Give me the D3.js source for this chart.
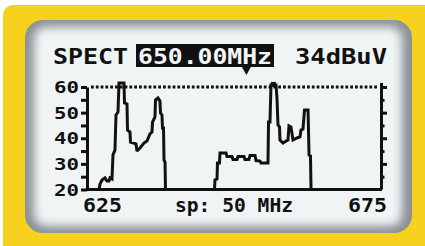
<!DOCTYPE html>
<html>
<head>
<meta charset="utf-8">
<script src="https://cdn.jsdelivr.net/npm/d3@7"></script>
<style>
  html, body { margin: 0; padding: 0; background: #ffffff; }
  svg { display: block; }
  text { font-family: "DejaVu Sans Mono", monospace; font-weight: bold; fill: #111; }
</style>
</head>
<body>
<svg id="chart" width="425" height="246"></svg>
<script>
// ---- data ----
const headerMode = "SPECT";
const headerFreq = "650.00MHz";
const headerLevel = "34dBuV";
const spanLabel = "sp: 50 MHz";
const xDomain = [625, 675];          // MHz
const yDomain = [20, 60];            // dBuV
const xTickLabels = [625, 675];
const yTickValues = [20, 25, 30, 35, 40, 45, 50, 55, 60];
const yTickLabels = [20, 30, 40, 50, 60];
const refLevel = [60];
const markerFreq = [652.1];
const peakMarker = [[656.7, 61.0]];

// channel 1 trace [MHz, dBuV]
const channel1 = [
  [625, 20], [627.04, 20], [627.21, 22.1], [627.55, 23.7], [628.06, 24.5], [628.40, 23.3],
  [628.74, 23.3], [628.91, 24.5], [629.25, 24.1], [629.42, 33.5], [629.76, 35.4],
  [629.93, 49.1], [630.27, 50.2], [630.44, 61.6], [631.29, 61.6], [631.38, 53.8],
  [631.80, 53.4], [631.89, 43.2], [632.31, 42.4], [632.40, 38.5], [633.33, 37.8],
  [633.50, 35.0], [634.01, 36.2], [634.69, 38.1], [635.20, 38.9], [635.71, 41.7],
  [636.05, 42.4], [636.14, 46.3], [636.56, 48.3], [636.65, 54.9], [637.07, 55.7],
  [637.41, 54.5], [637.50, 49.9], [637.75, 49.1], [637.84, 44.0], [638.01, 44.0],
  [638.10, 31.5], [638.27, 30.7], [638.35, 20]
];
// channel 2 trace [MHz, dBuV]
const channel2 = [
  [646.68, 20], [646.77, 23.7], [647.11, 24.1], [647.19, 30.3], [647.53, 30.3],
  [647.62, 34.2], [648.64, 34.2], [648.81, 32.9], [649.66, 32.9], [649.83, 31.7],
  [650.51, 31.7], [650.68, 32.9], [651.70, 32.9], [651.87, 31.7], [652.55, 31.7],
  [652.72, 33.3], [653.57, 33.3], [653.74, 31.3], [654.42, 31.1], [654.59, 30.3],
  [655.78, 30.3], [655.87, 46.3], [656.12, 46.3], [656.29, 60.8], [657.14, 60.8],
  [657.31, 55.7], [657.48, 45.2], [657.74, 44.4], [657.82, 39.3], [658.33, 38.1],
  [658.84, 38.9], [659.18, 39.3], [659.35, 44.8], [659.69, 44.4], [660.03, 39.3],
  [660.71, 40.1], [661.22, 40.5], [661.39, 43.2], [661.73, 43.6], [661.99, 51.0],
  [662.59, 51.0], [662.76, 33.5], [663.01, 33.1], [663.10, 20], [675, 20]
];

// ---- drawing ----
const svg = d3.select("#chart");
const ink = "#111";
const lw = 3;

const defs = svg.append("defs");
const blur = defs.append("filter").attr("id", "soft").attr("x", "-10%").attr("y", "-10%")
  .attr("width", "120%").attr("height", "120%");
blur.append("feGaussianBlur").attr("stdDeviation", 5);
defs.append("clipPath").attr("id", "screenClip")
  .append("rect").attr("x", 25).attr("y", 20).attr("width", 387).attr("height", 213).attr("rx", 18);

// yellow frame
svg.append("rect").attr("x", 3).attr("y", 5).attr("width", 440).attr("height", 260)
  .attr("rx", 10).attr("fill", "#f6d21e");
// screen bezel
svg.append("rect").attr("x", 25).attr("y", 20).attr("width", 387).attr("height", 213)
  .attr("rx", 18).attr("fill", "#8a9094");
svg.append("g").attr("clip-path", "url(#screenClip)")
  .append("rect").attr("x", 34).attr("y", 27).attr("width", 368).attr("height", 199)
  .attr("rx", 12).attr("fill", "#f0f4f5").attr("filter", "url(#soft)");

// scales
const x = d3.scaleLinear().domain(xDomain).range([87, 381]);
const y = d3.scaleLinear().domain(yDomain).range([189.5, 87]);

// left axis
const gL = svg.append("g").attr("transform", `translate(${x(xDomain[0])},0)`)
  .call(d3.axisLeft(y).tickValues(yTickValues).tickSize(6).tickSizeOuter(0).tickFormat(""));
gL.select(".domain").attr("stroke", ink).attr("stroke-width", lw);
gL.selectAll(".tick line").attr("stroke", ink).attr("stroke-width", lw);

// right axis (major / minor)
const gR1 = svg.append("g").attr("transform", `translate(${x(xDomain[1])},0)`)
  .call(d3.axisRight(y).tickValues(yTickValues.filter(v => v % 10 === 0 && v > 20)).tickSize(6).tickSizeOuter(0).tickFormat(""));
gR1.select(".domain").attr("stroke", ink).attr("stroke-width", lw)
  .attr("d", `M0.5,${y(yDomain[0])}V${y(yDomain[1]) - 4}`);
gR1.selectAll(".tick line").attr("stroke", ink).attr("stroke-width", lw);
const gR2 = svg.append("g").attr("transform", `translate(${x(xDomain[1])},0)`)
  .call(d3.axisRight(y).tickValues(yTickValues.filter(v => v % 10 !== 0)).tickSize(3.5).tickSizeOuter(0).tickFormat(""));
gR2.select(".domain").remove();
gR2.selectAll(".tick line").attr("stroke", ink).attr("stroke-width", lw);

// y labels
svg.append("g").selectAll("text").data(yTickLabels).join("text")
  .attr("x", 54).attr("y", d => y(d) + 6)
  .attr("font-size", 16.5)
  .attr("textLength", 25).attr("lengthAdjust", "spacingAndGlyphs")
  .text(d => d);

// reference level dotted line
svg.append("g").selectAll("line").data(refLevel).join("line")
  .attr("x1", x(xDomain[0]) + 4).attr("x2", x(xDomain[1]) - 2)
  .attr("y1", d => y(d)).attr("y2", d => y(d))
  .attr("stroke", ink).attr("stroke-width", lw).attr("stroke-dasharray", "2.8,2");

// trace
const line = d3.line().x(d => x(d[0])).y(d => y(d[1]));
svg.append("path").attr("d", line(channel1.concat(channel2)))
  .attr("fill", "none").attr("stroke", ink).attr("stroke-width", lw)
  .attr("stroke-linejoin", "miter").attr("stroke-miterlimit", 2);

// baseline (bottom axis)
svg.append("line").attr("x1", x(xDomain[0]) - 1).attr("x2", x(xDomain[1]) + 1)
  .attr("y1", y(yDomain[0])).attr("y2", y(yDomain[0]))
  .attr("stroke", ink).attr("stroke-width", lw);

// peak marker
svg.append("g").selectAll("rect").data(peakMarker).join("rect")
  .attr("x", d => x(d[0]) - 2.5).attr("y", d => y(d[1]) - 2.5)
  .attr("width", 5).attr("height", 5).attr("fill", ink);

// x labels
svg.append("text").attr("x", x(xTickLabels[0]) - 4).attr("y", 211.5)
  .attr("font-size", 19).attr("textLength", 39).attr("lengthAdjust", "spacingAndGlyphs")
  .text(xTickLabels[0]);
svg.append("text").attr("x", x(xTickLabels[1]) - 33).attr("y", 211.5)
  .attr("font-size", 19).attr("textLength", 39).attr("lengthAdjust", "spacingAndGlyphs")
  .text(xTickLabels[1]);
svg.append("text").attr("x", 175).attr("y", 211.5)
  .attr("font-size", 19).attr("textLength", 118).attr("lengthAdjust", "spacingAndGlyphs")
  .text(spanLabel);

// header
svg.append("text").attr("x", 53).attr("y", 64)
  .attr("font-size", 22).attr("textLength", 75).attr("lengthAdjust", "spacingAndGlyphs")
  .text(headerMode);
svg.append("rect").attr("x", 136).attr("y", 44).attr("width", 138).attr("height", 23).attr("fill", ink);
svg.append("text").attr("x", 138).attr("y", 64)
  .attr("font-size", 22).attr("textLength", 134).attr("lengthAdjust", "spacingAndGlyphs")
  .style("fill", "#f4f6f6")
  .text(headerFreq);
svg.append("text").attr("x", 295).attr("y", 64)
  .attr("font-size", 22).attr("textLength", 92).attr("lengthAdjust", "spacingAndGlyphs")
  .text(headerLevel);

// frequency marker triangle
svg.append("g").selectAll("path").data(markerFreq).join("path")
  .attr("d", d => `M${x(d) - 4.5},67 L${x(d) + 4.5},67 L${x(d)},75 Z`)
  .attr("fill", ink);
</script>
</body>
</html>
